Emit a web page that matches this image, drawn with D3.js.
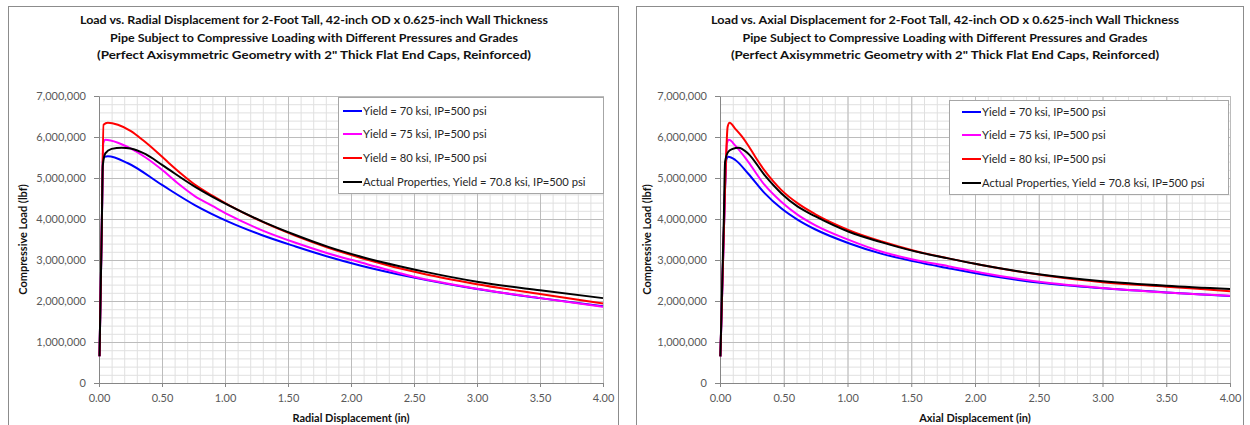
<!DOCTYPE html>
<html>
<head>
<meta charset="utf-8">
<script src="https://cdn.jsdelivr.net/npm/d3@7"></script>
<style>
  body { margin: 0; background: #fff; }
  svg { display: block; font-family: Lato, "Open Sans", sans-serif; }
</style>
</head>
<body>
<svg id="chart" width="1250" height="425"></svg>
<script>
// ---- data ----
var seriesNames = [
    "Yield = 70 ksi, IP=500 psi",
    "Yield = 75 ksi, IP=500 psi",
    "Yield = 80 ksi, IP=500 psi",
    "Actual Properties, Yield = 70.8 ksi, IP=500 psi"
];
var seriesColors = ["#0000ff", "#ff00ff", "#ff0000", "#000000"];

var xTicks = [0, 0.5, 1, 1.5, 2, 2.5, 3, 3.5, 4];
var yTicks = [0, 1000000, 2000000, 3000000, 4000000, 5000000, 6000000, 7000000];

var radialTitle = [
    "Load vs. Radial Displacement for 2-Foot Tall, 42-inch OD x 0.625-inch Wall Thickness",
    "Pipe Subject to Compressive Loading with Different Pressures and Grades",
    "(Perfect Axisymmetric Geometry with 2\" Thick Flat End Caps, Reinforced)"
];
var axialTitle = [
    "Load vs. Axial Displacement for 2-Foot Tall, 42-inch OD x 0.625-inch Wall Thickness",
    "Pipe Subject to Compressive Loading with Different Pressures and Grades",
    "(Perfect Axisymmetric Geometry with 2\" Thick Flat End Caps, Reinforced)"
];

// radial displacement (in) vs load (lbf)
var radial70X = [0.004, 0.022, 0.032, 0.045, 0.07, 0.23, 0.50, 0.76, 1.03, 1.29, 1.56, 1.82, 2.08, 2.50, 3.00, 3.50, 4.00];
var radial70Y = [650000, 3800000, 5450000, 5520000, 5530000, 5360000, 4830000, 4340000, 3930000, 3610000, 3330000, 3080000, 2860000, 2570000, 2290000, 2070000, 1870000];
var radial75X = [0.004, 0.022, 0.034, 0.05, 0.15, 0.25, 0.37, 0.50, 0.63, 0.76, 0.90, 1.03, 1.29, 1.56, 1.82, 2.08, 2.50, 3.00, 3.50, 4.00];
var radial75Y = [650000, 3800000, 5850000, 5930000, 5860000, 5720000, 5500000, 5200000, 4860000, 4560000, 4320000, 4100000, 3730000, 3420000, 3160000, 2940000, 2590000, 2300000, 2070000, 1860000];
var radial80X = [0.004, 0.022, 0.036, 0.07, 0.15, 0.25, 0.35, 0.45, 0.55, 0.65, 0.76, 0.90, 1.03, 1.29, 1.56, 1.82, 2.08, 2.59, 3.00, 3.50, 4.00];
var radial80Y = [650000, 3800000, 6300000, 6350000, 6300000, 6150000, 5920000, 5660000, 5380000, 5110000, 4840000, 4570000, 4340000, 3940000, 3590000, 3300000, 3050000, 2650000, 2410000, 2170000, 1940000];
var radialActX = [0.004, 0.022, 0.03, 0.05, 0.10, 0.18, 0.25, 0.37, 0.50, 0.76, 1.03, 1.29, 1.56, 1.82, 2.08, 2.59, 3.00, 3.50, 4.00];
var radialActY = [650000, 3800000, 5300000, 5600000, 5710000, 5740000, 5720000, 5580000, 5320000, 4790000, 4330000, 3950000, 3610000, 3320000, 3080000, 2710000, 2470000, 2260000, 2070000];

// axial displacement (in) vs load (lbf)
var axial70X = [0.003, 0.04, 0.05, 0.065, 0.12, 0.22, 0.35, 0.48, 0.61, 0.745, 1.01, 1.27, 1.53, 1.79, 2.05, 2.55, 3.00, 3.50, 4.00];
var axial70Y = [650000, 4800000, 5450000, 5520000, 5440000, 5110000, 4630000, 4260000, 3980000, 3750000, 3410000, 3150000, 2960000, 2800000, 2650000, 2430000, 2310000, 2210000, 2120000];
var axial75X = [0.003, 0.04, 0.055, 0.07, 0.12, 0.22, 0.35, 0.48, 0.61, 0.745, 1.01, 1.27, 1.53, 1.79, 2.05, 2.55, 3.00, 3.50, 4.00];
var axial75Y = [650000, 4800000, 5850000, 5930000, 5790000, 5400000, 4830000, 4420000, 4100000, 3850000, 3490000, 3200000, 3000000, 2850000, 2690000, 2450000, 2320000, 2210000, 2130000];
var axial80X = [0.003, 0.04, 0.06, 0.075, 0.12, 0.17, 0.22, 0.28, 0.35, 0.42, 0.48, 0.61, 0.745, 1.01, 1.27, 1.53, 1.79, 2.05, 2.55, 3.00, 3.50, 4.00];
var axial80Y = [650000, 4800000, 6250000, 6350000, 6200000, 6020000, 5800000, 5500000, 5180000, 4910000, 4710000, 4380000, 4120000, 3730000, 3450000, 3220000, 3040000, 2880000, 2620000, 2460000, 2350000, 2240000];
var axialActX = [0.003, 0.03, 0.04, 0.065, 0.10, 0.145, 0.22, 0.35, 0.48, 0.61, 0.745, 1.01, 1.27, 1.53, 1.79, 2.05, 2.50, 3.00, 3.50, 4.00];
var axialActY = [650000, 4000000, 5400000, 5640000, 5710000, 5740000, 5600000, 5070000, 4630000, 4300000, 4070000, 3690000, 3430000, 3210000, 3040000, 2880000, 2650000, 2480000, 2370000, 2290000];

// ---- drawing ----
var svg = d3.select("#chart");

function zip(xs, ys) {
    return xs.map(function (x, i) { return [x, ys[i]]; });
}

function drawChart(cfg) {
    var g = svg.append("g");

    // outer chart border
    g.append("rect")
        .attr("x", cfg.panel[0] + 0.5).attr("y", cfg.panel[1] + 0.5)
        .attr("width", cfg.panel[2]).attr("height", cfg.panel[3])
        .attr("fill", "#fff").attr("stroke", "#8c8c8c");

    // title, three lines
    g.selectAll("text.title")
        .data(cfg.title)
        .enter().append("text")
        .attr("class", "title")
        .attr("x", cfg.titleX)
        .attr("y", function (d, i) { return cfg.titleY + i * 17.5; })
        .attr("text-anchor", "middle")
        .attr("font-size", 12).attr("font-weight", "bold").attr("fill", "#111")
        .attr("textLength", function (d, i) { return cfg.titleW[i]; })
        .attr("lengthAdjust", "spacingAndGlyphs")
        .text(function (d) { return d; });

    var x = d3.scaleLinear().domain([0, 4]).range([cfg.x0, cfg.x1]);
    var y = d3.scaleLinear().domain([0, 7000000]).range([cfg.y0, cfg.y1]);
    var w = cfg.x1 - cfg.x0, h = cfg.y0 - cfg.y1;

    // minor grid
    var minorX = d3.range(0, 41).map(function (i) { return i / 10; });
    var minorY = d3.range(0, 36).map(function (i) { return i * 200000; });
    g.append("g")
        .attr("transform", "translate(0," + cfg.y0 + ")")
        .call(d3.axisBottom(x).tickValues(minorX).tickSize(-h).tickFormat(""))
        .call(function (s) { s.select(".domain").remove(); s.selectAll("line").attr("stroke", "#e0e0e0"); });
    g.append("g")
        .attr("transform", "translate(" + cfg.x0 + ",0)")
        .call(d3.axisLeft(y).tickValues(minorY).tickSize(-w).tickFormat(""))
        .call(function (s) { s.select(".domain").remove(); s.selectAll("line").attr("stroke", "#e0e0e0"); });

    // major grid
    g.append("g")
        .attr("transform", "translate(0," + cfg.y0 + ")")
        .call(d3.axisBottom(x).tickValues(xTicks).tickSize(-h).tickFormat(""))
        .call(function (s) { s.select(".domain").remove(); s.selectAll("line").attr("stroke", "#bcbcbc"); });
    g.append("g")
        .attr("transform", "translate(" + cfg.x0 + ",0)")
        .call(d3.axisLeft(y).tickValues(yTicks).tickSize(-w).tickFormat(""))
        .call(function (s) { s.select(".domain").remove(); s.selectAll("line").attr("stroke", "#bcbcbc"); });

    // axes
    var xAxis = g.append("g")
        .attr("transform", "translate(0," + cfg.y0 + ")")
        .call(d3.axisBottom(x).tickValues(xTicks).tickFormat(d3.format(".2f")).tickSize(4).tickPadding(7).tickSizeOuter(0));
    var yAxis = g.append("g")
        .attr("transform", "translate(" + cfg.x0 + ",0)")
        .call(d3.axisLeft(y).tickValues(yTicks).tickFormat(d3.format(",")).tickSize(5).tickPadding(8).tickSizeOuter(0));
    [xAxis, yAxis].forEach(function (a) {
        a.select(".domain").attr("stroke", "#868686");
        a.selectAll(".tick line").attr("stroke", "#868686");
        a.selectAll(".tick text")
            .attr("fill", "#595959")
            .attr("font-size", 11)
            .attr("font-family", "Lato, 'Open Sans', sans-serif");
    });

    // axis titles
    g.append("text")
        .attr("x", (cfg.x0 + cfg.x1) / 2).attr("y", 422)
        .attr("text-anchor", "middle")
        .attr("font-size", 11).attr("font-weight", "bold").attr("fill", "#111")
        .text(cfg.xLabel);
    g.append("text")
        .attr("transform", "translate(" + cfg.yLabelX + "," + (cfg.y0 + cfg.y1) / 2 + ") rotate(-90)")
        .attr("text-anchor", "middle")
        .attr("font-size", 11).attr("font-weight", "bold").attr("fill", "#111")
        .text("Compressive Load (lbf)");

    // series
    var line = d3.line()
        .x(function (d) { return x(d[0]); })
        .y(function (d) { return y(d[1]); })
        .curve(d3.curveMonotoneX);
    cfg.series.forEach(function (s, i) {
        g.append("path")
            .datum(s)
            .attr("d", line)
            .attr("fill", "none")
            .attr("stroke", seriesColors[i])
            .attr("stroke-width", 2)
            .attr("stroke-linejoin", "round");
    });

    // legend
    var lg = cfg.legend;
    g.append("rect")
        .attr("x", lg.x + 0.5).attr("y", lg.y + 0.5)
        .attr("width", lg.w).attr("height", lg.h)
        .attr("fill", "#fff").attr("stroke", "#a6a6a6");
    seriesNames.forEach(function (name, i) {
        var yy = lg.rows[i];
        g.append("line")
            .attr("x1", lg.lineX0).attr("x2", lg.lineX1)
            .attr("y1", yy).attr("y2", yy)
            .attr("stroke", seriesColors[i]).attr("stroke-width", 2);
        g.append("text")
            .attr("x", lg.textX).attr("y", yy + 4)
            .attr("font-size", 11.2).attr("fill", "#262626")
            .text(name);
    });
}

drawChart({
    panel: [8, 6, 610, 430],
    title: radialTitle, titleX: 314, titleY: 24, titleW: [468, 408, 434],
    x0: 99, x1: 603, y0: 383, y1: 96,
    xLabel: "Radial Displacement (in)", yLabelX: 27,
    series: [zip(radial70X, radial70Y), zip(radial75X, radial75Y), zip(radial80X, radial80Y), zip(radialActX, radialActY)],
    legend: { x: 338, y: 97, w: 265, h: 96, rows: [111, 134, 158, 182], lineX0: 343, lineX1: 362, textX: 363 }
});

drawChart({
    panel: [636, 6, 607, 430],
    title: axialTitle, titleX: 945, titleY: 24, titleW: [468, 405, 428],
    x0: 720, x1: 1230, y0: 383, y1: 96,
    xLabel: "Axial Displacement (in)", yLabelX: 651,
    series: [zip(axial70X, axial70Y), zip(axial75X, axial75Y), zip(axial80X, axial80Y), zip(axialActX, axialActY)],
    legend: { x: 949, y: 100, w: 279, h: 94, rows: [112, 135, 159, 183], lineX0: 962, lineX1: 981, textX: 982 }
});
</script>
</body>
</html>
